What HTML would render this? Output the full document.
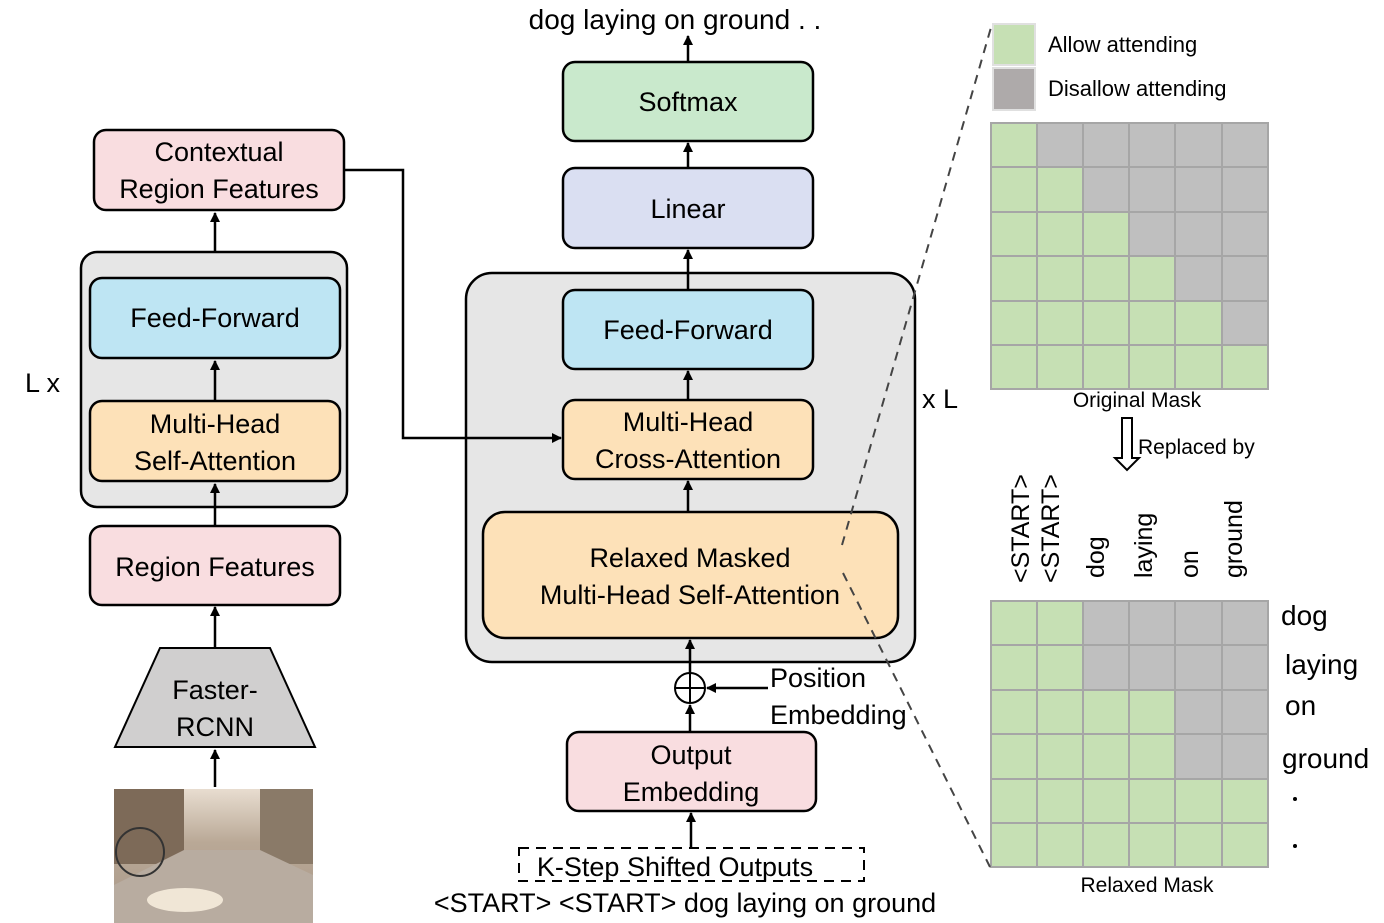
<!DOCTYPE html>
<html><head><meta charset="utf-8"><style>
html,body{margin:0;padding:0;background:#fff;}
svg{display:block;}
text{font-family:"Liberation Sans",sans-serif;fill:#000;}
</style></head><body>
<svg width="1384" height="923" viewBox="0 0 1384 923" xmlns="http://www.w3.org/2000/svg">
<defs>
<marker id="ah" viewBox="0 0 10 10" refX="9" refY="5" markerWidth="4" markerHeight="4" orient="auto-start-reverse"><path d="M0,0 L10,5 L0,10 z" fill="#000"/></marker>
<linearGradient id="sky" x1="0" y1="0" x2="0" y2="1"><stop offset="0" stop-color="#e8ddd0"/><stop offset="0.4" stop-color="#b9a896"/><stop offset="1" stop-color="#a89888"/></linearGradient>
</defs>
<g stroke="#000" stroke-width="2.5">
<rect x="81" y="252" width="266" height="255" rx="16" fill="#e6e6e6"/>
<rect x="94" y="130" width="250" height="80" rx="12" fill="#f9dde0"/>
<rect x="90" y="278" width="250" height="80" rx="12" fill="#bee5f3"/>
<rect x="90" y="401" width="250" height="80" rx="12" fill="#fde1b8"/>
<rect x="90" y="526" width="250" height="79" rx="12" fill="#f9dde0"/>
<polygon points="160,648 270,648 315,747 115,747" fill="#d0cfcf" stroke-width="2"/>
<rect x="466" y="273" width="449" height="389" rx="26" fill="#e6e6e6"/>
<rect x="563" y="62" width="250" height="79" rx="12" fill="#c9e9cc"/>
<rect x="563" y="168" width="250" height="80" rx="12" fill="#dadff2"/>
<rect x="563" y="290" width="250" height="79" rx="12" fill="#bee5f3"/>
<rect x="563" y="400" width="250" height="79" rx="12" fill="#fde1b8"/>
<rect x="483" y="512" width="415" height="126" rx="22" fill="#fde1b8"/>
<rect x="567" y="732" width="249" height="79" rx="12" fill="#f9dde0"/>
<rect x="519" y="848" width="345" height="33" fill="none" stroke-dasharray="10,7" stroke-width="2"/>
<circle cx="690" cy="688" r="15" fill="#fff" stroke-width="2"/>
<line x1="675" y1="688" x2="705" y2="688" stroke-width="2"/>
<line x1="690" y1="673" x2="690" y2="703" stroke-width="2"/>
</g>
<g stroke="#000" stroke-width="2.5" fill="none" marker-end="url(#ah)">
<line x1="215" y1="787" x2="215" y2="750"/>
<line x1="215" y1="648" x2="215" y2="607"/>
<line x1="215" y1="526" x2="215" y2="484"/>
<line x1="215" y1="401" x2="215" y2="361"/>
<line x1="215" y1="252" x2="215" y2="213"/>
<polyline points="344,170 403,170 403,438 561,438"/>
<line x1="688" y1="62" x2="688" y2="36"/>
<line x1="688" y1="168" x2="688" y2="143"/>
<line x1="688" y1="290" x2="688" y2="250"/>
<line x1="688" y1="400" x2="688" y2="371"/>
<line x1="688" y1="512" x2="688" y2="481"/>
<line x1="690" y1="673" x2="690" y2="640"/>
<line x1="690" y1="732" x2="690" y2="705"/>
<line x1="768" y1="688" x2="707" y2="688"/>
<line x1="691" y1="848" x2="691" y2="813"/>
</g>
<g>
<rect x="114" y="789" width="199" height="134" fill="url(#sky)"/>
<rect x="114" y="789" width="70" height="75" fill="#7d6a58"/>
<rect x="260" y="789" width="53" height="75" fill="#8a7a68"/>
<polygon points="184,850 260,850 313,875 313,923 114,923 114,885" fill="#b8aca0"/>
<circle cx="140" cy="852" r="24" fill="none" stroke="#333" stroke-width="2"/>
<ellipse cx="185" cy="900" rx="38" ry="12" fill="#f0e6d6"/>
</g>
<g font-size="27" text-anchor="middle">
<text x="219" y="161">Contextual</text>
<text x="219" y="198">Region Features</text>
<text x="215" y="327">Feed-Forward</text>
<text x="215" y="433">Multi-Head</text>
<text x="215" y="470">Self-Attention</text>
<text x="215" y="576">Region Features</text>
<text x="215" y="699">Faster-</text>
<text x="215" y="736">RCNN</text>
<text x="688" y="111">Softmax</text>
<text x="688" y="218">Linear</text>
<text x="688" y="339">Feed-Forward</text>
<text x="688" y="431">Multi-Head</text>
<text x="688" y="468">Cross-Attention</text>
<text x="690" y="567">Relaxed Masked</text>
<text x="690" y="604">Multi-Head Self-Attention</text>
<text x="691" y="764">Output</text>
<text x="691" y="801">Embedding</text>
<text x="675" y="29" font-size="28">dog laying on ground . .</text>
<text x="685" y="912">&lt;START&gt; &lt;START&gt; dog laying on ground</text>
<text x="675" y="876">K-Step Shifted Outputs</text>
</g>
<g font-size="27">
<text x="770" y="687">Position</text>
<text x="770" y="724">Embedding</text>
<text x="25" y="392">L x</text>
<text x="922" y="408">x L</text>
</g>
<rect x="993" y="24" width="42" height="41" fill="#c6e0b4" stroke="#e0e0e0" stroke-width="2"/>
<rect x="993" y="68" width="42" height="42" fill="#aeaaaa" stroke="#e0e0e0" stroke-width="2"/>
<g font-size="22">
<text x="1048" y="52">Allow attending</text>
<text x="1048" y="96">Disallow attending</text>
</g>
<text x="1138" y="454" font-size="21">Replaced by</text>
<g font-size="21" text-anchor="middle">
<text x="1137" y="407">Original Mask</text>
<text x="1147" y="892">Relaxed Mask</text>
</g>
<g stroke="#a6a6a6" stroke-width="2">
<rect x="991" y="123" width="46" height="44" fill="#c6e0b4"/><rect x="1037" y="123" width="46" height="44" fill="#bfbfbf"/><rect x="1083" y="123" width="46" height="44" fill="#bfbfbf"/><rect x="1129" y="123" width="46" height="44" fill="#bfbfbf"/><rect x="1175" y="123" width="47" height="44" fill="#bfbfbf"/><rect x="1222" y="123" width="46" height="44" fill="#bfbfbf"/>
<rect x="991" y="167" width="46" height="45" fill="#c6e0b4"/><rect x="1037" y="167" width="46" height="45" fill="#c6e0b4"/><rect x="1083" y="167" width="46" height="45" fill="#bfbfbf"/><rect x="1129" y="167" width="46" height="45" fill="#bfbfbf"/><rect x="1175" y="167" width="47" height="45" fill="#bfbfbf"/><rect x="1222" y="167" width="46" height="45" fill="#bfbfbf"/>
<rect x="991" y="212" width="46" height="44" fill="#c6e0b4"/><rect x="1037" y="212" width="46" height="44" fill="#c6e0b4"/><rect x="1083" y="212" width="46" height="44" fill="#c6e0b4"/><rect x="1129" y="212" width="46" height="44" fill="#bfbfbf"/><rect x="1175" y="212" width="47" height="44" fill="#bfbfbf"/><rect x="1222" y="212" width="46" height="44" fill="#bfbfbf"/>
<rect x="991" y="256" width="46" height="45" fill="#c6e0b4"/><rect x="1037" y="256" width="46" height="45" fill="#c6e0b4"/><rect x="1083" y="256" width="46" height="45" fill="#c6e0b4"/><rect x="1129" y="256" width="46" height="45" fill="#c6e0b4"/><rect x="1175" y="256" width="47" height="45" fill="#bfbfbf"/><rect x="1222" y="256" width="46" height="45" fill="#bfbfbf"/>
<rect x="991" y="301" width="46" height="44" fill="#c6e0b4"/><rect x="1037" y="301" width="46" height="44" fill="#c6e0b4"/><rect x="1083" y="301" width="46" height="44" fill="#c6e0b4"/><rect x="1129" y="301" width="46" height="44" fill="#c6e0b4"/><rect x="1175" y="301" width="47" height="44" fill="#c6e0b4"/><rect x="1222" y="301" width="46" height="44" fill="#bfbfbf"/>
<rect x="991" y="345" width="46" height="44" fill="#c6e0b4"/><rect x="1037" y="345" width="46" height="44" fill="#c6e0b4"/><rect x="1083" y="345" width="46" height="44" fill="#c6e0b4"/><rect x="1129" y="345" width="46" height="44" fill="#c6e0b4"/><rect x="1175" y="345" width="47" height="44" fill="#c6e0b4"/><rect x="1222" y="345" width="46" height="44" fill="#c6e0b4"/>
<rect x="991" y="601" width="46" height="44" fill="#c6e0b4"/><rect x="1037" y="601" width="46" height="44" fill="#c6e0b4"/><rect x="1083" y="601" width="46" height="44" fill="#bfbfbf"/><rect x="1129" y="601" width="46" height="44" fill="#bfbfbf"/><rect x="1175" y="601" width="47" height="44" fill="#bfbfbf"/><rect x="1222" y="601" width="46" height="44" fill="#bfbfbf"/>
<rect x="991" y="645" width="46" height="45" fill="#c6e0b4"/><rect x="1037" y="645" width="46" height="45" fill="#c6e0b4"/><rect x="1083" y="645" width="46" height="45" fill="#bfbfbf"/><rect x="1129" y="645" width="46" height="45" fill="#bfbfbf"/><rect x="1175" y="645" width="47" height="45" fill="#bfbfbf"/><rect x="1222" y="645" width="46" height="45" fill="#bfbfbf"/>
<rect x="991" y="690" width="46" height="44" fill="#c6e0b4"/><rect x="1037" y="690" width="46" height="44" fill="#c6e0b4"/><rect x="1083" y="690" width="46" height="44" fill="#c6e0b4"/><rect x="1129" y="690" width="46" height="44" fill="#c6e0b4"/><rect x="1175" y="690" width="47" height="44" fill="#bfbfbf"/><rect x="1222" y="690" width="46" height="44" fill="#bfbfbf"/>
<rect x="991" y="734" width="46" height="45" fill="#c6e0b4"/><rect x="1037" y="734" width="46" height="45" fill="#c6e0b4"/><rect x="1083" y="734" width="46" height="45" fill="#c6e0b4"/><rect x="1129" y="734" width="46" height="45" fill="#c6e0b4"/><rect x="1175" y="734" width="47" height="45" fill="#bfbfbf"/><rect x="1222" y="734" width="46" height="45" fill="#bfbfbf"/>
<rect x="991" y="779" width="46" height="44" fill="#c6e0b4"/><rect x="1037" y="779" width="46" height="44" fill="#c6e0b4"/><rect x="1083" y="779" width="46" height="44" fill="#c6e0b4"/><rect x="1129" y="779" width="46" height="44" fill="#c6e0b4"/><rect x="1175" y="779" width="47" height="44" fill="#c6e0b4"/><rect x="1222" y="779" width="46" height="44" fill="#c6e0b4"/>
<rect x="991" y="823" width="46" height="44" fill="#c6e0b4"/><rect x="1037" y="823" width="46" height="44" fill="#c6e0b4"/><rect x="1083" y="823" width="46" height="44" fill="#c6e0b4"/><rect x="1129" y="823" width="46" height="44" fill="#c6e0b4"/><rect x="1175" y="823" width="47" height="44" fill="#c6e0b4"/><rect x="1222" y="823" width="46" height="44" fill="#c6e0b4"/>
</g>
<path d="M1122,418 L1132,418 L1132,458 L1139,458 L1127,470 L1115,458 L1122,458 Z" fill="#fff" stroke="#000" stroke-width="2"/>
<g font-size="25">
<text transform="translate(1029,583) rotate(-90)">&lt;START&gt;</text>
<text transform="translate(1059,583) rotate(-90)">&lt;START&gt;</text>
<text transform="translate(1104,578) rotate(-90)">dog</text>
<text transform="translate(1152,578) rotate(-90)">laying</text>
<text transform="translate(1198,578) rotate(-90)">on</text>
<text transform="translate(1242,578) rotate(-90)">ground</text>
</g>
<g font-size="28">
<text x="1281" y="625">dog</text>
<text x="1285" y="674">laying</text>
<text x="1285" y="715">on</text>
<text x="1282" y="768">ground</text>
</g>
<circle cx="1295" cy="799" r="2" fill="#000"/>
<circle cx="1295" cy="846" r="2" fill="#000"/>
<g stroke="#444" stroke-width="2" stroke-dasharray="9,7" fill="none">
<line x1="842" y1="545" x2="992" y2="24"/>
<line x1="843" y1="573" x2="990" y2="867"/>
</g>
</svg>
</body></html>
